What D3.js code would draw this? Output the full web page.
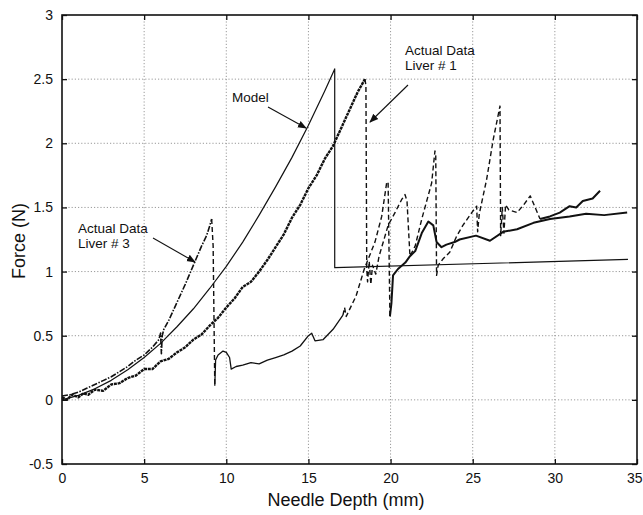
<!DOCTYPE html>
<html>
<head>
<meta charset="utf-8">
<script src="https://cdn.jsdelivr.net/npm/d3@7"></script>
<style>
  body { margin: 0; background: #fff; }
  svg { display: block; font-family: "Liberation Sans", Arial, Helvetica, sans-serif; }
  .grid line { stroke: #9a9a9a; stroke-width: 1; stroke-dasharray: 1.2,2; }
  .axis text { font-size: 14px; fill: #111; }
  .axis line { stroke: #111; stroke-width: 1.3; }
  .axis path { display: none; }
</style>
</head>
<body>
<div id="plot"></div>
<script>
// tick values
var xTicks = [0, 5, 10, 15, 20, 25, 30, 35];
var yTicks = [-0.5, 0, 0.5, 1, 1.5, 2, 2.5, 3];

// Model curve
var modelX = [0, 1, 2, 3, 4, 5, 6, 7, 8, 9, 10, 11, 12, 13, 14, 15, 16, 16.6, 16.6, 34.45];
var modelY = [0, 0.035, 0.086, 0.152, 0.234, 0.33, 0.44, 0.57, 0.71, 0.87, 1.04, 1.23, 1.44, 1.66, 1.89, 2.14, 2.41, 2.58, 1.03, 1.095];

// Actual data, liver #1
var liver1X = [0, 0.3, 0.6, 1, 1.3, 1.6, 2, 2.5, 3, 3.5, 4, 4.5, 5, 5.5, 6, 6.5, 7, 7.5, 8, 8.5, 9, 9.5, 10, 10.5, 11, 11.5, 12, 12.5, 13, 13.5, 14, 14.5, 15, 15.5, 16, 16.5, 17, 17.5, 18, 18.44,
  18.5, 18.55, 18.6, 18.7, 18.8, 18.9, 19.1, 19.3, 19.6, 19.85, 20.27, 20.67, 20.88, 21.0, 21.18, 21.5, 21.9, 22.5, 22.7, 22.75, 22.8, 22.9, 23.2, 23.6, 24.0, 24.4, 25.0, 25.24, 25.3, 25.4, 25.85, 26.25, 26.66,
  26.7, 26.8, 26.9, 27.0, 27.2, 27.7, 28.1, 28.5, 29.1, 29.7, 30.3, 30.9, 31.3, 31.7, 32.3, 32.75];
var liver1Y = [0.02, 0.0, 0.04, 0.02, 0.05, 0.04, 0.08, 0.07, 0.12, 0.13, 0.17, 0.19, 0.24, 0.24, 0.30, 0.32, 0.37, 0.41, 0.47, 0.51, 0.58, 0.64, 0.72, 0.79, 0.88, 0.92, 1.00, 1.09, 1.19, 1.29, 1.42, 1.52, 1.65, 1.75, 1.88, 1.98, 2.12, 2.26, 2.40, 2.50,
  2.45, 1.02, 0.92, 1.08, 0.90, 1.05, 0.98, 1.12, 1.25, 1.36, 1.46, 1.56, 1.60, 1.55, 1.12, 1.20, 1.41, 1.69, 1.94, 1.90, 0.97, 1.05, 1.10, 1.15, 1.27, 1.36, 1.47, 1.51, 1.31, 1.45, 1.72, 2.03, 2.29,
  1.28, 1.50, 1.30, 1.52, 1.48, 1.46, 1.52, 1.59, 1.41, 1.43, 1.46, 1.51, 1.50, 1.55, 1.57, 1.63];

// Actual data, liver #3
var liver3X = [0, 0.5, 1, 1.5, 2, 2.5, 3, 3.5, 4, 4.5, 5, 5.5, 5.9, 6.0, 6.05, 6.1, 6.2, 6.5, 7, 7.5, 8, 8.5, 8.8, 9.0, 9.11,
  9.2, 9.3, 9.35, 9.5, 9.8, 10.0, 10.2, 10.3, 10.6, 11, 11.5, 12, 12.5, 13, 13.5, 14, 14.5, 15.0, 15.2, 15.4, 15.9, 16.5, 17.1,
  17.2, 17.3, 17.9, 18.4, 19.05, 19.46, 19.76, 19.85, 19.96,
  20.05, 20.15, 20.45, 20.9, 21.18, 21.5, 21.9, 22.3, 22.6, 22.8, 23.1, 23.4, 23.9, 24.2, 25.2, 26.05, 26.85, 27.7, 28.7, 29.7, 30.9, 31.9, 33, 34.4];
var liver3Y = [0.03, 0.04, 0.06, 0.09, 0.12, 0.15, 0.18, 0.22, 0.26, 0.31, 0.35, 0.41, 0.47, 0.52, 0.36, 0.50, 0.55, 0.62, 0.76, 0.90, 1.05, 1.20, 1.28, 1.36, 1.41,
  1.20, 0.11, 0.31, 0.35, 0.38, 0.37, 0.33, 0.24, 0.26, 0.27, 0.29, 0.28, 0.31, 0.33, 0.35, 0.38, 0.42, 0.50, 0.52, 0.46, 0.47, 0.55, 0.66,
  0.72, 0.65, 0.81, 1.02, 1.23, 1.43, 1.69, 1.70, 0.65,
  0.75, 0.97, 1.02, 1.07, 1.12, 1.16, 1.30, 1.39, 1.36, 1.23, 1.19, 1.21, 1.23, 1.25, 1.28, 1.24, 1.31, 1.33, 1.38, 1.41, 1.43, 1.45, 1.44, 1.46];

var width = 643, height = 515;
var x = d3.scaleLinear().domain([0, 35]).range([62, 637]);
var y = d3.scaleLinear().domain([-0.5, 3]).range([464, 15]);

var svg = d3.select("#plot").append("svg")
  .attr("width", width)
  .attr("height", height);

svg.append("defs").append("marker")
  .attr("id", "arrow")
  .attr("viewBox", "0 0 10 10")
  .attr("refX", 9).attr("refY", 5)
  .attr("markerWidth", 9).attr("markerHeight", 9)
  .attr("markerUnits", "userSpaceOnUse")
  .attr("orient", "auto")
  .append("path").attr("d", "M0,1 L10,5 L0,9 z").attr("fill", "#111");

// grid
var grid = svg.append("g").attr("class", "grid");
grid.selectAll(".gx").data(xTicks.slice(1, -1)).enter().append("line")
  .attr("x1", function (d) { return x(d); }).attr("x2", function (d) { return x(d); })
  .attr("y1", y(3)).attr("y2", y(-0.5));
grid.selectAll(".gy").data(yTicks.slice(1, -1)).enter().append("line")
  .attr("y1", function (d) { return y(d); }).attr("y2", function (d) { return y(d); })
  .attr("x1", x(0)).attr("x2", x(35));

// axes (ticks point inward on all four sides)
var xAxis = svg.append("g").attr("class", "axis").attr("transform", "translate(0," + y(-0.5) + ")")
  .call(d3.axisBottom(x).tickValues(xTicks).tickSize(-5).tickSizeOuter(0).tickPadding(9).tickFormat(function (d) { return d; }));
// last label sits against the right edge, keep it inside the page
xAxis.selectAll(".tick").filter(function (d) { return d === 35; }).select("text")
  .attr("text-anchor", "end").attr("dx", 5);
svg.append("g").attr("class", "axis").attr("transform", "translate(" + x(0) + ",0)")
  .call(d3.axisLeft(y).tickValues(yTicks).tickSize(-5).tickSizeOuter(0).tickPadding(9).tickFormat(function (d) { return d; }));
svg.append("g").attr("class", "axis").attr("transform", "translate(0," + y(3) + ")")
  .call(d3.axisTop(x).tickValues(xTicks).tickSize(-5).tickSizeOuter(0).tickFormat(""));
svg.append("g").attr("class", "axis").attr("transform", "translate(" + x(35) + ",0)")
  .call(d3.axisRight(y).tickValues(yTicks).tickSize(-5).tickSizeOuter(0).tickFormat(""));

svg.append("rect")
  .attr("x", x(0)).attr("y", y(3))
  .attr("width", x(35) - x(0)).attr("height", y(-0.5) - y(3))
  .attr("fill", "none").attr("stroke", "#111").attr("stroke-width", 1.6);

var line = d3.line().x(function (d) { return x(d[0]); }).y(function (d) { return y(d[1]); });

// draw a series in pieces, each piece with its own stroke
function drawSeries(xs, ys, pieces) {
  var pts = xs.map(function (v, i) { return [v, ys[i]]; });
  pieces.forEach(function (p) {
    var seg = pts.slice(p.from, p.to + 1);
    svg.append("path")
      .datum(seg)
      .attr("d", line)
      .attr("fill", "none")
      .attr("stroke", "#111")
      .attr("stroke-width", p.w)
      .attr("stroke-dasharray", p.dash || null)
      .attr("stroke-linejoin", "round");
  });
}

var i1peak = liver1X.indexOf(18.44), i1tail = liver1X.indexOf(29.1);
drawSeries(liver1X, liver1Y, [
  { from: 0, to: i1peak, w: 2.4, dash: "3,0.8" },
  { from: i1peak, to: i1tail, w: 1.4, dash: "5,3" },
  { from: i1tail, to: liver1X.length - 1, w: 2, dash: null }
]);

var i3peak = liver3X.indexOf(9.11), i3low = liver3X.indexOf(9.3), i3rise = liver3X.indexOf(17.1), i3drop = liver3X.indexOf(19.96);
drawSeries(liver3X, liver3Y, [
  { from: 0, to: i3peak, w: 1.6, dash: "6,1.5,1.5,1.5" },
  { from: i3peak, to: i3low, w: 1.4, dash: "5,3" },
  { from: i3low, to: i3rise, w: 1.3, dash: null },
  { from: i3rise, to: i3drop, w: 1.4, dash: "5,3" },
  { from: i3drop, to: liver3X.length - 1, w: 2, dash: null }
]);

drawSeries(modelX, modelY, [{ from: 0, to: modelX.length - 1, w: 1.2, dash: null }]);

// annotations
function note(lines, tx, ty, ax1, ay1, ax2, ay2) {
  var t = svg.append("text").attr("x", tx).attr("y", ty)
    .attr("font-size", 13.5).attr("fill", "#111");
  lines.forEach(function (s, i) {
    t.append("tspan").attr("x", tx).attr("dy", i === 0 ? 0 : 15).text(s);
  });
  svg.append("line")
    .attr("x1", ax1).attr("y1", ay1).attr("x2", ax2).attr("y2", ay2)
    .attr("stroke", "#111").attr("stroke-width", 1.1)
    .attr("marker-end", "url(#arrow)");
}
note(["Model"], 232, 102, 268, 107, 306, 128);
note(["Actual Data", "Liver # 1"], 405, 55, 408, 85, 370, 122);
note(["Actual Data", "Liver # 3"], 78, 233, 153, 238, 195, 262);

// axis titles
svg.append("text")
  .attr("x", 346).attr("y", 506)
  .attr("text-anchor", "middle")
  .attr("font-size", 18).attr("fill", "#111")
  .text("Needle Depth (mm)");
svg.append("text")
  .attr("transform", "translate(25,241) rotate(-90)")
  .attr("text-anchor", "middle")
  .attr("font-size", 18).attr("fill", "#111")
  .text("Force (N)");
</script>
</body>
</html>
